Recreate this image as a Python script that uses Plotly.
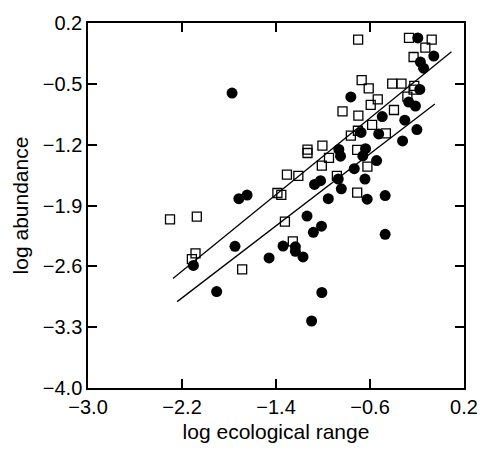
import plotly.graph_objects as go

# Open squares
sq_x = [-2.302, -2.074, -2.085, -2.116, -1.688, -1.388, -1.355, -1.324, -1.257, -1.307,
        -1.210, -1.132, -1.132, -1.005, -0.949, -1.010, -0.882, -0.709, -0.709, -0.763,
        -0.703, -0.582, -0.622, -0.465, -0.834, -0.699, -0.594, -0.534, -0.671, -0.611,
        -0.701, -0.411, -0.332, -0.223, -0.229, -0.282, -0.396, -0.268, -0.075, -0.129,
        -0.229]
sq_y = [-2.060, -2.027, -2.450, -2.517, -2.634, -1.756, -1.778, -2.086, -2.312, -1.544,
        -1.560, -1.257, -1.296, -1.210, -1.352, -1.441, -1.560, -1.752, -1.259, -1.096,
        -1.040, -0.973, -1.452, -1.070, -0.818, -0.865, -0.743, -0.678, -0.458, -0.553,
        0.008, -0.497, -0.497, -0.523, -0.567, -0.647, -0.801, 0.028, 0.009, -0.083,
        -0.191]

# Filled circles
ci_x = [-1.774, -1.716, -1.646, -2.103, -1.749, -1.905, -1.459, -1.340, -1.235, -1.235,
        -1.170, -1.136, -1.082, -1.013, -1.010, -1.097, -0.955, -0.844, -0.870, -1.021,
        -1.072, -0.865, -0.851, -0.734, -0.643, -0.624, -0.471, -0.471, -0.638, -0.661,
        -0.544, -0.676, -0.526, -0.763, -0.496, -0.304, -0.323, -0.201, -0.271, -0.213,
        -0.176, -0.171, -0.144, -0.057, -0.193]
ci_y = [-0.606, -1.822, -1.780, -2.589, -2.370, -2.890, -2.503, -2.367, -2.375, -2.427,
        -2.492, -2.022, -2.208, -2.138, -2.901, -3.229, -1.822, -1.708, -1.596, -1.615,
        -1.658, -1.255, -1.332, -1.476, -1.596, -1.827, -1.786, -2.231, -1.246, -1.329,
        -1.383, -1.059, -1.077, -0.651, -0.877, -0.918, -1.157, -1.026, -0.710, -0.756,
        -0.565, -0.250, -0.320, -0.180, 0.028]

# Fitted lines: [x_start, x_end], intercept, slope
sq_fit_range = [-2.277, 0.093]
sq_fit_coef = [-0.234, 1.100]
ci_fit_range = [-2.241, -0.048]
ci_fit_coef = [-0.682, 1.037]

x_ticks = [-3.0, -2.2, -1.4, -0.6, 0.2]
y_ticks = [0.2, -0.5, -1.2, -1.9, -2.6, -3.3, -4.0]

font_family = "Liberation Sans, Arial, Helvetica, sans-serif"

fig = go.Figure()

for rng, coef in [(sq_fit_range, sq_fit_coef), (ci_fit_range, ci_fit_coef)]:
    fig.add_trace(go.Scatter(
        x=rng, y=[coef[0] + coef[1] * v for v in rng],
        mode="lines", line=dict(color="black", width=1.3),
        showlegend=False, hoverinfo="skip"))

fig.add_trace(go.Scatter(
    x=sq_x, y=sq_y, mode="markers",
    marker=dict(symbol="square-open", size=9, color="black", line=dict(width=1.3)),
    showlegend=False))

fig.add_trace(go.Scatter(
    x=ci_x, y=ci_y, mode="markers",
    marker=dict(symbol="circle", size=11, color="black", line=dict(width=0)),
    showlegend=False))

axis_common = dict(
    showgrid=False, zeroline=False, showline=True, linecolor="black", linewidth=1.5,
    mirror="allticks", ticks="inside", ticklen=9, tickwidth=1.5, tickcolor="black",
    tickfont=dict(family=font_family, size=20, color="black"),
    tickformat=".1f",
)

fig.update_layout(
    width=490, height=452,
    margin=dict(l=88, r=16, t=15, b=58),
    paper_bgcolor="white", plot_bgcolor="white",
    font=dict(family=font_family, color="black"),
    xaxis=dict(range=[-3.0, 0.2], tickvals=x_ticks,
               title=dict(text="log ecological range", font=dict(size=21), standoff=8),
               **axis_common),
    yaxis=dict(range=[-4.0, 0.2], tickvals=y_ticks,
               title=dict(text="log abundance", font=dict(size=21), standoff=8),
               **axis_common),
)

fig.write_html("out.html")
